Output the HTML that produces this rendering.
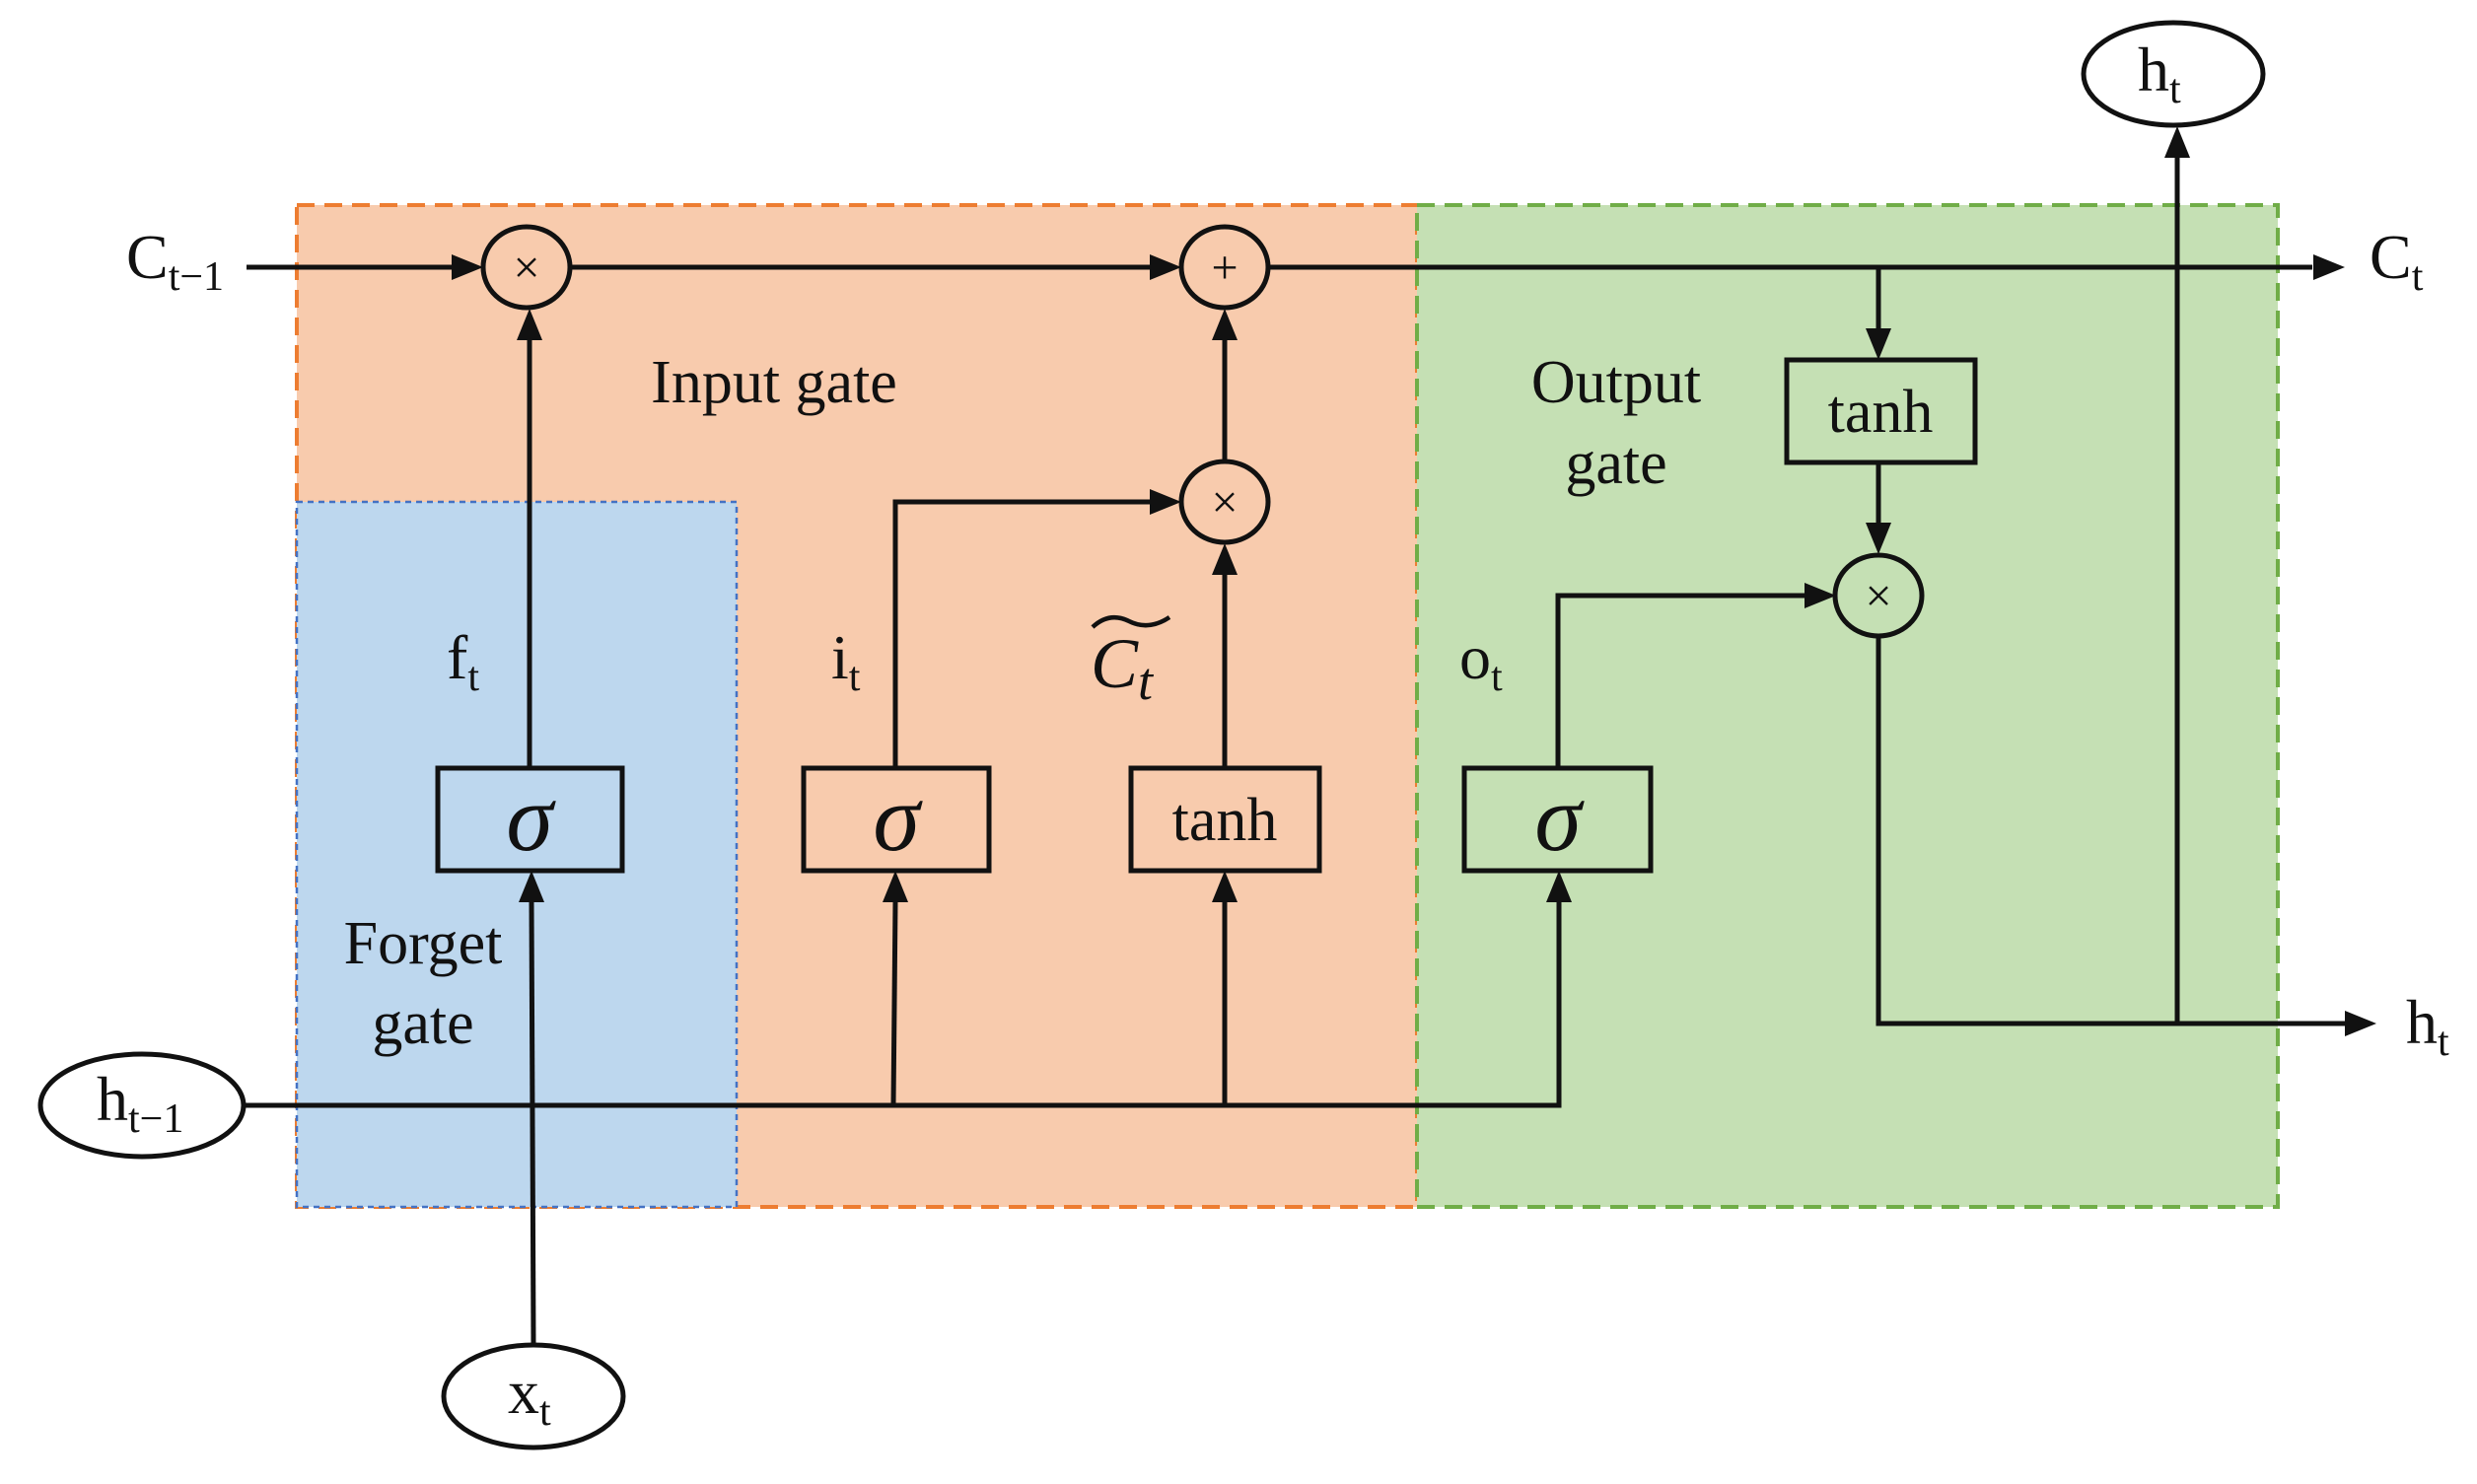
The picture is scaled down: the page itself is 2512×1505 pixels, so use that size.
<!DOCTYPE html>
<html><head><meta charset="utf-8"><style>
html,body{margin:0;padding:0;background:#fff;}
svg{display:block;}
text{font-family:"Liberation Serif",serif;fill:#111;}
</style></head><body>
<svg width="2512" height="1505" viewBox="0 0 2512 1505" xmlns="http://www.w3.org/2000/svg">
<rect x="301" y="208" width="1136" height="1016" fill="#f8cbad" stroke="#ed7d31" stroke-width="4" stroke-dasharray="18 10"/>
<rect x="1437" y="208" width="873" height="1016" fill="#c5e0b4" stroke="#70ad47" stroke-width="4" stroke-dasharray="18 10"/>
<rect x="301" y="509" width="446" height="715" fill="#bdd7ee" stroke="#4472c4" stroke-width="2.5" stroke-dasharray="6 5"/>

<g stroke="#111" stroke-width="5" fill="none">
<line x1="250" y1="271" x2="462" y2="271"/>
<line x1="578" y1="271" x2="1170" y2="271"/>
<line x1="1286" y1="271" x2="2345" y2="271"/>
<line x1="537" y1="779" x2="537" y2="345"/>
<line x1="541" y1="1362" x2="539" y2="915"/>
<polyline points="247,1121 1581,1121 1581,915"/>
<line x1="906" y1="1121" x2="908" y2="915"/>
<polyline points="908,779 908,509 1170,509"/>
<line x1="1242" y1="1121" x2="1242" y2="915"/>
<line x1="1242" y1="779" x2="1242" y2="581"/>
<line x1="1242" y1="467" x2="1242" y2="345"/>
<polyline points="1580,779 1580,604 1833,604"/>
<line x1="1905" y1="271" x2="1905" y2="335"/>
<line x1="1905" y1="469" x2="1905" y2="534"/>
<polyline points="1905,646 1905,1038 2380,1038"/>
<line x1="2208" y1="1038" x2="2208" y2="160"/>
</g>
<g fill="#111">
<polygon points="490,271 458,258 458,284"/>
<polygon points="1198,271 1166,258 1166,284"/>
<polygon points="2378,271 2346,258 2346,284"/>
<polygon points="537,313 524,345 550,345"/>
<polygon points="539,883 526,915 552,915"/>
<polygon points="908,883 895,915 921,915"/>
<polygon points="1242,883 1229,915 1255,915"/>
<polygon points="1581,883 1568,915 1594,915"/>
<polygon points="1198,509 1166,496 1166,522"/>
<polygon points="1242,551 1229,583 1255,583"/>
<polygon points="1242,313 1229,345 1255,345"/>
<polygon points="1862,604 1830,591 1830,617"/>
<polygon points="1905,365 1892,333 1918,333"/>
<polygon points="1905,562 1892,530 1918,530"/>
<polygon points="2410,1038 2378,1025 2378,1051"/>
<polygon points="2208,128 2195,160 2221,160"/>
</g>
<g stroke="#111" stroke-width="5">
<ellipse cx="534" cy="271" rx="44" ry="41" fill="#f8cbad"/>
<ellipse cx="1242" cy="271" rx="44" ry="41" fill="#f8cbad"/>
<ellipse cx="1242" cy="509" rx="44" ry="41" fill="#f8cbad"/>
<ellipse cx="1905" cy="604" rx="44" ry="41" fill="#c5e0b4"/>
<ellipse cx="144" cy="1121" rx="103" ry="52" fill="#fff"/>
<ellipse cx="541" cy="1416" rx="91" ry="52" fill="#fff"/>
<ellipse cx="2204" cy="75" rx="91" ry="52" fill="#fff"/>
<rect x="444" y="779" width="187" height="104" fill="#bdd7ee"/>
<rect x="815" y="779" width="188" height="104" fill="#f8cbad"/>
<rect x="1147" y="779" width="191" height="104" fill="#f8cbad"/>
<rect x="1485" y="779" width="189" height="104" fill="#c5e0b4"/>
<rect x="1812" y="365" width="191" height="104" fill="#c5e0b4"/>
</g>
<g font-size="48" text-anchor="middle">
<text x="534" y="287">×</text>
<text x="1242" y="287">+</text>
<text x="1242" y="525">×</text>
<text x="1905" y="620">×</text>
</g>
<g font-size="96" font-style="italic" text-anchor="middle" font-family="'DejaVu Serif',serif">
<text x="537" y="862">σ</text>
<text x="909" y="862">σ</text>
<text x="1580" y="862">σ</text>
</g>
<g font-size="62" text-anchor="middle">
<text x="1242" y="852">tanh</text>
<text x="1907" y="438">tanh</text>
<text x="785" y="408">Input gate</text>
<text x="1639" y="408">Output</text>
<text x="1639" y="490">gate</text>
<text x="429" y="977">Forget</text>
<text x="429" y="1058">gate</text>
</g>
<g font-size="64">
<text x="128" y="282">C<tspan font-size="42" dy="12">t−1</tspan></text>
<text x="2403" y="282">C<tspan font-size="42" dy="12">t</tspan></text>
<text x="2440" y="1058">h<tspan font-size="42" dy="12">t</tspan></text>
<text x="2168" y="92">h<tspan font-size="42" dy="12">t</tspan></text>
<text x="98" y="1136">h<tspan font-size="42" dy="12">t−1</tspan></text>
<text x="515" y="1433">x<tspan font-size="42" dy="12">t</tspan></text>
<text x="453" y="688">f<tspan font-size="42" dy="12">t</tspan></text>
<text x="843" y="688">i<tspan font-size="42" dy="12">t</tspan></text>
<text x="1480" y="688">o<tspan font-size="42" dy="12">t</tspan></text>
</g>
<text x="1106" y="697" font-size="72" font-style="italic" font-family="'DejaVu Serif',serif">C<tspan font-size="54" dy="12">t</tspan></text>
<path d="M1108,636 Q1125,620 1145,630 Q1165,640 1186,626" stroke="#111" stroke-width="4.5" fill="none"/>
</svg>
</body></html>
